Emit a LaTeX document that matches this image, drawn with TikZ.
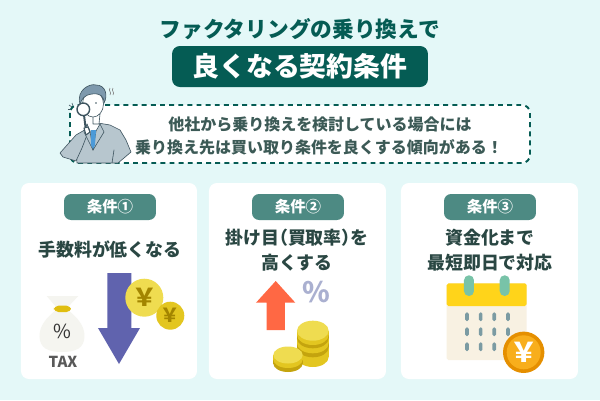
\documentclass[tikz,border=0pt]{standalone}
\usepackage{fontspec}
\setmainfont{Noto Sans CJK JP}
\usepackage{tikz}
\usetikzlibrary{positioning}

\definecolor{bgcol}{HTML}{E4F8F8}
\definecolor{tealcol}{HTML}{055C54}
\definecolor{pillcol}{HTML}{4D8A83}
\definecolor{textcol}{HTML}{3C5A56}
\definecolor{headcol}{HTML}{2A4743}
\definecolor{suitcol}{HTML}{B7C6CE}
\definecolor{linecol}{HTML}{3F5560}
\definecolor{haircol}{HTML}{7E99AD}
\definecolor{tiecol}{HTML}{4C9AD8}
\definecolor{purplecol}{HTML}{6063AE}
\definecolor{redcol}{HTML}{FF6844}
\definecolor{coinlight}{HTML}{EFDC50}
\definecolor{coinmid}{HTML}{E3C620}
\definecolor{coindark}{HTML}{C4A40E}
\definecolor{yencol}{HTML}{A38500}
\definecolor{bagcol}{HTML}{F5F5F0}
\definecolor{knotcol}{HTML}{E0BE10}
\definecolor{percol}{HTML}{AAB0D0}
\definecolor{calbody}{HTML}{F8F1E2}
\definecolor{calhead}{HTML}{FFD41A}
\definecolor{ringcol}{HTML}{78C3A8}
\definecolor{dotcol}{HTML}{7B9BA3}
\definecolor{yenouter}{HTML}{E58F00}
\definecolor{yeninner}{HTML}{F8AE1C}

% one band of a coin stack: centre x, x radius, y radius, top y, lower edge y, colour
\newcommand{\coinband}[6]{
	\fill[#6] (#1-#2,#4) rectangle (#1+#2,#5-#3);
	\fill[#6] (#1,#5-#3) ellipse [x radius=#2,y radius=#3];
}

\begin{document}
\begin{tikzpicture}
		[
			x=0.02cm,
			y=-0.02cm,
			font=\bfseries,
			label/.style={inner sep=0pt,align=center,text=headcol,font=\bfseries\fontsize{10.2}{13}\selectfont},
			card/.style={fill=white,rounded corners=4.5pt},
			pill/.style={fill=pillcol,rounded corners=4pt,text=white,minimum width=1.84cm,minimum height=0.52cm,inner sep=0pt,font=\bfseries\fontsize{8.8}{10}\selectfont},
			coin/.style={inner sep=0pt,font=\bfseries\fontsize{#1}{#1}\selectfont},
			man/.style={draw=linecol,line width=0.35pt,line join=round}
		]

		% background
		\fill[bgcol] (0,0) rectangle (600,400);

		% title
		\node[inner sep=0pt,text=tealcol,font=\bfseries\fontsize{12.35}{14}\selectfont] (title) at (300,29) {ファクタリングの乗り換えで};
		\node[fill=tealcol,rounded corners=4.5pt,text=white,minimum width=5.12cm,minimum height=0.82cm,inner sep=0pt,font=\bfseries\fontsize{15.3}{18}\selectfont] (banner) at (300,66.5) {良くなる契約条件};

		% speech box
		\draw[tealcol,fill=white,line width=1.1pt,dash pattern=on 2.8pt off 2.4pt,rounded corners=4.5pt] (70,105) rectangle (530,163);
		\node[inner sep=0pt,text=textcol,font=\bfseries\fontsize{9.1}{12}\selectfont] (speech1) at (320,124) {他社から乗り換えを検討している場合には};
		\node[inner sep=0pt,text=textcol,font=\bfseries\fontsize{9.1}{12}\selectfont] (speech2) at (319,147) {乗り換え先は買い取り条件を良くする傾向がある！};

		% man
		\draw[man,fill=suitcol] (77,163) -- (76,150) -- (79,135) -- (88,127) -- (98,123) -- (110,125) -- (120,130) -- (126,140) -- (131,152) -- (124,158) -- (118,163) -- (112,163) -- (114,150) -- (112,163) -- cycle;
		\draw[man,fill=suitcol] (88,128) -- (76,135) -- (60,153) -- (63,157) -- (76,161) -- (82,148) -- (87,135) -- cycle;
		\fill[white] (87,124) -- (100,124) -- (93,150) -- cycle;
		\draw[man] (87,124) -- (93,150) -- (100,124);
		\draw[man,fill=suitcol] (87,124) -- (84,132) -- (93,150) -- (90,131) -- cycle;
		\draw[man,fill=suitcol] (100,124) -- (104,132) -- (93,150) -- (96,131) -- cycle;
		\fill[tiecol] (91,130) -- (96,130) -- (95,145) -- (93,149) -- (91,145) -- cycle;
		\draw[man,fill=white] (93,116) -- (93,124) -- (99,124) -- (100,114) -- cycle;
		\draw[man,fill=white] (93,104) ellipse [x radius=10.5,y radius=13];
		\draw[man,fill=haircol] (80,104) .. controls (76,90) and (90,83) .. (96,85) .. controls (106,85) and (108,96) .. (104,103) .. controls (104,96) and (100,93) .. (92,94) .. controls (84,95) and (82,99) .. (80,104) -- cycle;
		\draw[man,line width=0.6pt,fill=white] (84,128) -- (86,135) -- (90,132) -- (88,127) -- cycle;
		\draw[linecol,line width=1.1pt] (84,115) -- (85.5,127);
		\draw[man,line width=0.8pt,fill=white] (83.3,109.3) circle (6.3);
		\fill[linecol] (96,103) circle (0.9);
		\draw[man,gray] (110,88) .. controls (108,91) and (112,92) .. (110,95);
		\draw[man,gray] (113,88) .. controls (111,91) and (115,92) .. (113,95);
		\foreach \fromx/\fromy/\tox/\toy in {69/105/72/107, 68/109/71/109, 72/103/73/106}
			\draw[man] (\fromx,\fromy) -- (\tox,\toy);

		% cards
		\foreach \cardl/\cardr in {21/197, 209/386, 401/578}
			\fill[card] (\cardl,183) rectangle (\cardr,379);
		\node[pill] (pill1) at (110,207) {条件①};
		\node[pill] (pill2) at (298,207) {条件②};
		\node[pill] (pill3) at (490,207) {条件③};

		% card labels
		\node[label] (label1) at (110,250) {手数料が低くなる};
		\node[label] (label2) at (297,250) {掛け目\hspace{-0.5em}（買取率）\hspace{-0.5em}を\\[1.2pt]高くする};
		\node[label] (label3) at (490,250) {資金化まで\\[1.2pt]最短即日で対応};

		% tax bag
		\fill[bagcol] (46.7,296) -- (78.3,296) -- (67,308) -- (57,308) -- cycle;
		\fill[bagcol] (56,310) .. controls (46,318) and (39.5,326) .. (39.5,336) .. controls (39.5,348) and (48,352) .. (62,352) .. controls (76,352) and (84.5,348) .. (84.5,336) .. controls (84.5,326) and (78,318) .. (68,310) -- cycle;
		\fill[rounded corners=2.5pt,fill=knotcol] (54,305.7) rectangle (71,312);
		\node[inner sep=0pt,text=black!80,font=\fontsize{11}{11}\selectfont] (bagpercent) at (62,331) {\%};
		\node[inner sep=0pt,text=black!65,font=\bfseries\fontsize{8.6}{10}\selectfont] (tax) at (63,362) {TAX};

		% down arrow and coins
		\fill[purplecol] (107.3,273) -- (131.3,273) -- (131.3,328) -- (140,328) -- (119,364) -- (98,328) -- (107.3,328) -- cycle;
		\fill[coinlight] (144.3,297.7) circle (19);
		\node[coin=14,text=yencol] (yen1) at (144.3,297.7) {￥};
		\fill[coinmid] (170.3,315.7) circle (14);
		\node[coin=11,text=yencol] (yen2) at (170.3,315.7) {￥};

		% up arrow and percent
		\fill[redcol] (275.7,281) -- (295.3,302.7) -- (285,302.7) -- (285,330) -- (266.7,330) -- (266.7,302.7) -- (256,302.7) -- cycle;
		\node[inner sep=0pt,text=percol,font=\bfseries\fontsize{16}{16}\selectfont] (upperc) at (316.3,292.3) {\%};

		% coin stacks
		\foreach \lowy/\bandcol in {367/coinmid, 357.3/coindark, 353.3/coinmid, 348.3/coindark, 345/coinmid}
			\coinband{312.85}{15.85}{10}{330.7}{\lowy}{\bandcol};
		\fill[coinlight] (312.85,330.7) ellipse [x radius=15.85,y radius=10];
		\foreach \lowy/\bandcol in {372/coindark, 368/coinmid}
			\coinband{288}{14.7}{8.5}{355}{\lowy}{\bandcol};
		\fill[coinlight] (288,355) ellipse [x radius=14.7,y radius=8.5];

		% calendar
		\fill[rounded corners=1pt,fill=calbody] (446.7,283.3) rectangle (526.7,360);
		\fill[rounded corners=1pt,fill=calhead] (446.7,283.3) rectangle (526.7,306);
		\foreach \rx in {469,504.7}
			\fill[fill=ringcol,rounded corners=2.8pt] (\rx-5,275.3) rectangle (\rx+5,296);
		\foreach \dx in {467,480.7,494.3,508}
			\foreach \dy in {316.7,331.7,346.7}
				\fill[fill=dotcol,rounded corners=0.9pt] (\dx-1.8,\dy-4.4) rectangle (\dx+1.8,\dy+4.4);
		\fill[yenouter] (523.7,352.3) circle (20.7);
		\fill[yeninner] (523.7,352.3) circle (17);
		\node[coin=15.5,text=white] (yen3) at (523.7,352.3) {￥};

	\end{tikzpicture}
\end{document}
